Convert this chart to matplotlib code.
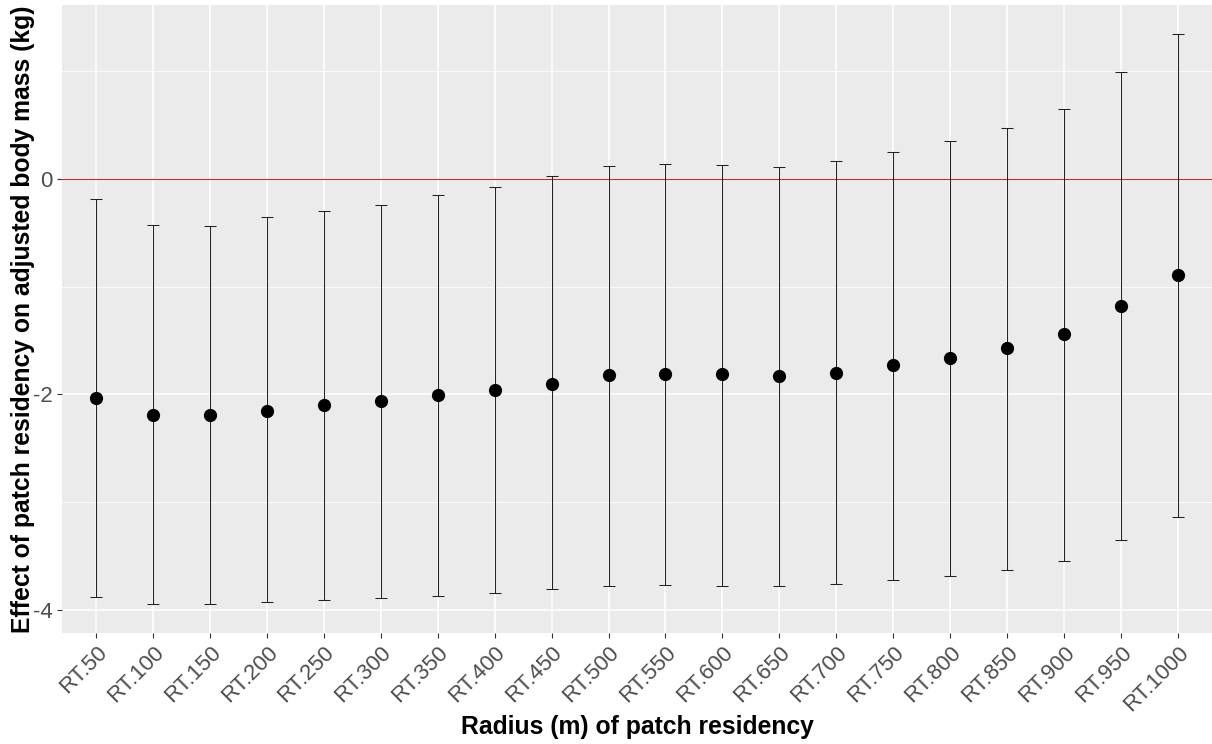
import matplotlib
matplotlib.use("Agg")
import matplotlib.pyplot as plt
from matplotlib.ticker import MultipleLocator
from matplotlib.transforms import blended_transform_factory

categories = ["RT.50", "RT.100", "RT.150", "RT.200", "RT.250", "RT.300", "RT.350",
              "RT.400", "RT.450", "RT.500", "RT.550", "RT.600", "RT.650", "RT.700",
              "RT.750", "RT.800", "RT.850", "RT.900", "RT.950", "RT.1000"]
estimate = [-2.03, -2.19, -2.19, -2.15, -2.10, -2.06, -2.01, -1.96, -1.90, -1.82,
            -1.81, -1.81, -1.83, -1.80, -1.73, -1.66, -1.57, -1.44, -1.18, -0.89]
upper = [-0.185, -0.43, -0.435, -0.35, -0.30, -0.24, -0.15, -0.074, 0.028, 0.12,
         0.14, 0.13, 0.11, 0.167, 0.25, 0.35, 0.47, 0.65, 0.99, 1.35]
lower = [-3.88, -3.95, -3.95, -3.93, -3.91, -3.89, -3.87, -3.84, -3.81, -3.78,
         -3.77, -3.78, -3.78, -3.76, -3.72, -3.69, -3.63, -3.55, -3.35, -3.14]

plt.rcParams['font.family'] = ['Liberation Sans', 'DejaVu Sans']

fig = plt.figure(figsize=(12.12, 7.44), dpi=100)
ax = fig.add_axes([62/1212, 1-633/744, 1-62/1212, (633-5)/744])
ax.set_facecolor('#EBEBEB')
for s in ax.spines.values():
    s.set_visible(False)

x = list(range(len(categories)))
yerr = [[e - l for e, l in zip(estimate, lower)], [u - e for u, e in zip(upper, estimate)]]

ax.set_xlim(-0.6, len(categories) - 0.4)
ax.set_ylim(-4.215, 1.615)
ax.yaxis.set_major_locator(MultipleLocator(2))
ax.yaxis.set_minor_locator(MultipleLocator(1))
ax.set_xticks(x)
ax.set_xticklabels(categories, rotation=45, ha='right', va='top', rotation_mode='anchor',
                   fontsize=16, color='#4D4D4D')
ax.set_yticks([-4, -2, 0])
ax.set_yticklabels(['-4', '-2', '0'], fontsize=16, color='#4D4D4D')

ax.grid(which='major', color='white', linewidth=1.1)
ax.grid(which='minor', axis='y', color='white', linewidth=0.55)
ax.set_axisbelow(True)
ax.tick_params(which='major', length=3.5, width=0.8, color='#333333', pad=3)
ax.tick_params(which='minor', length=0)

ax.axhline(0, color='#E02020', linewidth=0.75, zorder=2)

ax.errorbar(x, estimate, yerr=yerr, fmt='o', color='black', ecolor='#222222',
            elinewidth=0.75, capsize=4.3, capthick=0.75, markersize=8.5, zorder=3)

ax.set_xlabel("Radius (m) of patch residency", fontsize=17.8, fontweight='bold')
ax.xaxis.set_label_coords(0.5, 1 - 715/744,
                          transform=blended_transform_factory(ax.transAxes, fig.transFigure))
ax.set_ylabel("Effect of patch residency on adjusted body mass (kg)", fontsize=17.8,
              fontweight='bold', labelpad=-1)

fig.savefig("out.png", dpi=100)
